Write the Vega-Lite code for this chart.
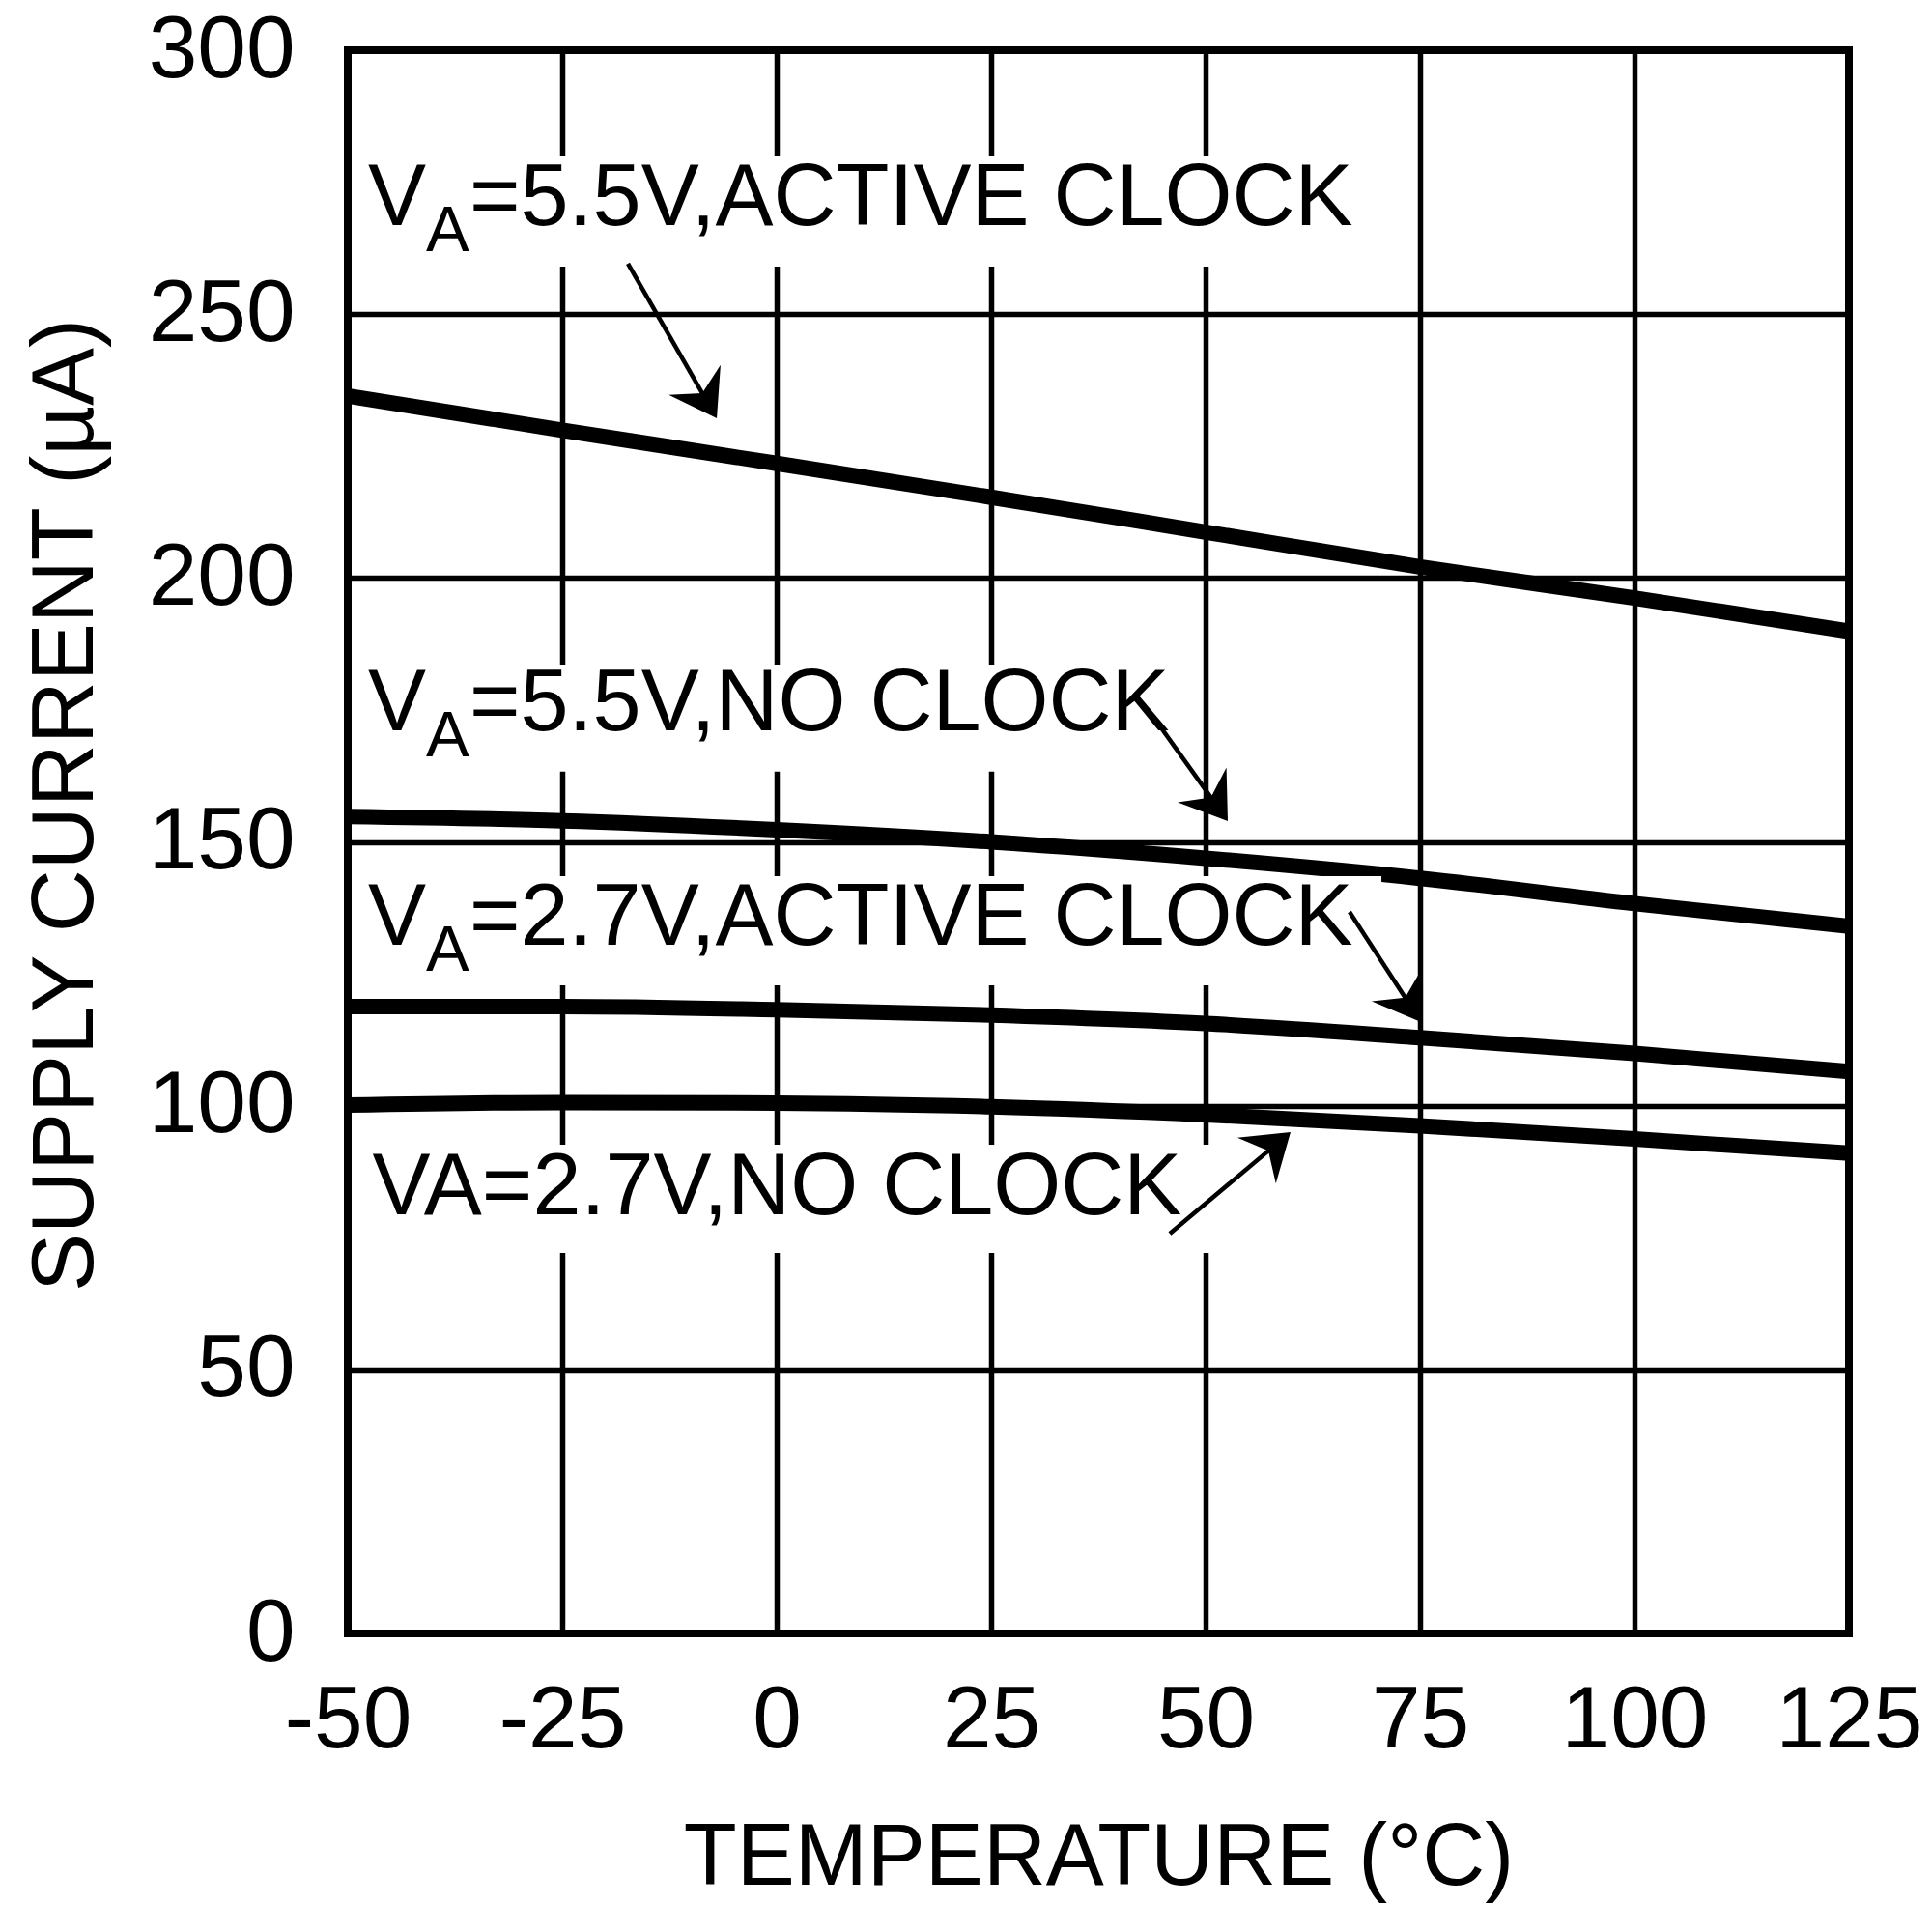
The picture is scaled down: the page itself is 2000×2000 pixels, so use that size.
{
  "$schema": "https://vega.github.io/schema/vega-lite/v6.json",
  "width": 1554,
  "height": 1639,
  "autosize": {"type": "none"},
  "padding": {"left": 360, "top": 52, "right": 86, "bottom": 309},
  "background": "white",
  "config": {
    "font": "Liberation Sans",
    "view": {"stroke": "black", "strokeWidth": 8},
    "axis": {
      "grid": true,
      "gridColor": "black",
      "gridWidth": 5.5,
      "gridOpacity": 1,
      "domain": false,
      "ticks": false,
      "labelFont": "Liberation Sans",
      "labelFontSize": 91,
      "labelColor": "black",
      "labelFlush": false,
      "labelOverlap": false,
      "labelExpr": "'' + datum.value",
      "titleFont": "Liberation Sans",
      "titleFontSize": 90,
      "titleFontWeight": "normal",
      "titleColor": "black"
    }
  },
  "datasets": {
    "curves": [
      {"series": "5.5V active", "t": -50, "i": 234.5},
      {"series": "5.5V active", "t": -25, "i": 228.0},
      {"series": "5.5V active", "t": 0, "i": 221.7},
      {"series": "5.5V active", "t": 25, "i": 215.3},
      {"series": "5.5V active", "t": 50, "i": 208.7},
      {"series": "5.5V active", "t": 75, "i": 202.1},
      {"series": "5.5V active", "t": 100, "i": 196.2},
      {"series": "5.5V active", "t": 125, "i": 189.9},
      {"series": "5.5V no clock", "t": -50, "i": 154.8},
      {"series": "5.5V no clock", "t": -25, "i": 154.0},
      {"series": "5.5V no clock", "t": 0, "i": 152.3},
      {"series": "5.5V no clock", "t": 25, "i": 150.0},
      {"series": "5.5V no clock", "t": 50, "i": 146.9},
      {"series": "5.5V no clock", "t": 75, "i": 143.1},
      {"series": "5.5V no clock", "t": 100, "i": 138.3},
      {"series": "5.5V no clock", "t": 125, "i": 134.0},
      {"series": "2.7V active", "t": -50, "i": 118.8},
      {"series": "2.7V active", "t": -25, "i": 118.8},
      {"series": "2.7V active", "t": 0, "i": 118.2},
      {"series": "2.7V active", "t": 25, "i": 117.2},
      {"series": "2.7V active", "t": 50, "i": 115.6},
      {"series": "2.7V active", "t": 75, "i": 112.9},
      {"series": "2.7V active", "t": 100, "i": 109.9},
      {"series": "2.7V active", "t": 125, "i": 106.5},
      {"series": "2.7V no clock", "t": -50, "i": 100.1},
      {"series": "2.7V no clock", "t": -25, "i": 100.6},
      {"series": "2.7V no clock", "t": 0, "i": 100.5},
      {"series": "2.7V no clock", "t": 25, "i": 99.8},
      {"series": "2.7V no clock", "t": 50, "i": 98.3},
      {"series": "2.7V no clock", "t": 75, "i": 96.2},
      {"series": "2.7V no clock", "t": 100, "i": 93.7},
      {"series": "2.7V no clock", "t": 125, "i": 91.0}
    ],
    "boxes": [
      {"t": -49.3, "t2": 69.4, "i": 259.0, "i2": 279.9},
      {"t": -49.3, "t2": 48.0, "i": 163.3, "i2": 183.6},
      {"t": -49.3, "t2": 70.5, "i": 122.8, "i2": 143.5},
      {"t": -49.3, "t2": 51.4, "i": 72.1, "i2": 92.6}
    ],
    "arrows": [
      {"t": -17.34, "i": 259.55, "t2": -8.39, "i2": 234.24},
      {"t": 44.14, "i": 173.15, "t2": 50.96, "i2": 157.67},
      {"t": 66.78, "i": 136.73, "t2": 73.58, "i2": 119.71},
      {"t": 45.83, "i": 75.78, "t2": 57.76, "i2": 92.05}
    ],
    "heads": [
      {"t": -6.98, "i": 230.26, "ang": 150},
      {"t": 52.59, "i": 153.94, "ang": 144.5},
      {"t": 75.11, "i": 115.86, "ang": 147},
      {"t": 59.91, "i": 95.0, "ang": 50}
    ],
    "labels": [
      {"t": -47.64, "i": 266.87, "head": "V", "sub": "A", "rest": "=5.5V,ACTIVE CLOCK"},
      {"t": -47.64, "i": 171.14, "head": "V", "sub": "A", "rest": "=5.5V,NO CLOCK"},
      {"t": -47.64, "i": 130.51, "head": "V", "sub": "A", "rest": "=2.7V,ACTIVE CLOCK"},
      {"t": -47.13, "i": 79.44, "head": "VA=2.7V,NO CLOCK", "sub": "", "rest": ""}
    ]
  },
  "encoding": {
    "x": {
      "field": "t",
      "type": "quantitative",
      "scale": {"domain": [-50, 125], "nice": false, "zero": false},
      "axis": {
        "values": [-50, -25, 0, 25, 50, 75, 100, 125],
        "labelPadding": 45,
        "title": "TEMPERATURE (°C)",
        "titleBaseline": "alphabetic",
        "titleY": 259
      }
    },
    "y": {
      "field": "i",
      "type": "quantitative",
      "scale": {"domain": [0, 300], "nice": false, "zero": false},
      "axis": {
        "values": [0, 50, 100, 150, 200, 250, 300],
        "labelPadding": 55,
        "title": "SUPPLY CURRENT (µA)",
        "titleBaseline": "alphabetic",
        "titleX": -265,
        "titleY": 781,
        "encode": {
          "labels": {
            "update": {
              "dx": {"signal": "datum.value === 0 ? 20 : (datum.value === 50 ? 10 : 0)"}
            }
          }
        }
      }
    }
  },
  "layer": [
    {
      "data": {"name": "curves"},
      "mark": {"type": "line", "color": "black", "strokeWidth": 16, "interpolate": "monotone"},
      "encoding": {"detail": {"field": "series"}}
    },
    {
      "data": {"name": "boxes"},
      "mark": {"type": "rect", "color": "white", "strokeWidth": 0},
      "encoding": {"x2": {"field": "t2"}, "y2": {"field": "i2"}}
    },
    {
      "data": {"name": "arrows"},
      "mark": {"type": "rule", "color": "black", "strokeWidth": 4.5},
      "encoding": {"x2": {"field": "t2"}, "y2": {"field": "i2"}}
    },
    {
      "data": {"name": "heads"},
      "mark": {
        "type": "point",
        "shape": "M0,0 L1,1.48 L0,0.97 L-1,1.48 Z",
        "filled": true,
        "color": "black",
        "opacity": 1,
        "size": 3844,
        "strokeWidth": 0
      },
      "encoding": {"angle": {"field": "ang", "type": "quantitative", "scale": null}}
    },
    {
      "data": {"name": "labels"},
      "mark": {"type": "text", "align": "left", "baseline": "alphabetic", "fontSize": 90, "color": "black", "font": "Liberation Sans"},
      "encoding": {"text": {"field": "head"}}
    },
    {
      "data": {"name": "labels"},
      "mark": {"type": "text", "align": "left", "baseline": "alphabetic", "fontSize": 67, "dx": 60, "dy": 27, "color": "black", "font": "Liberation Sans"},
      "encoding": {"text": {"field": "sub"}}
    },
    {
      "data": {"name": "labels"},
      "mark": {"type": "text", "align": "left", "baseline": "alphabetic", "fontSize": 90, "dx": 105, "color": "black", "font": "Liberation Sans"},
      "encoding": {"text": {"field": "rest"}}
    }
  ]
}
